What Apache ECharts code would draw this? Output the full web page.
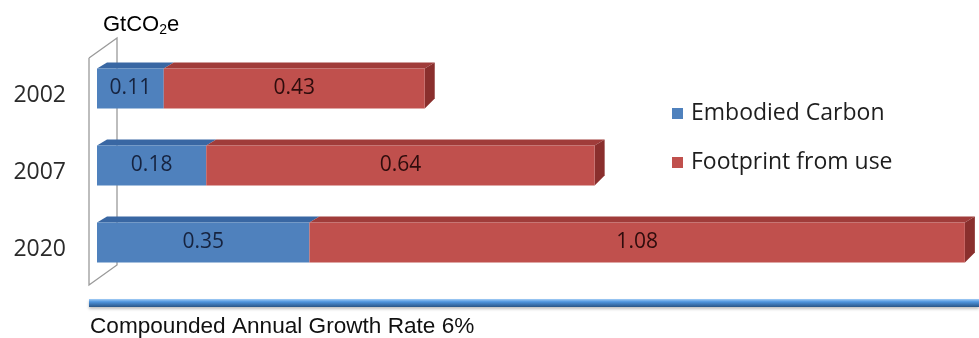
<!DOCTYPE html>
<html>
<head>
<meta charset="utf-8">
<script src="https://cdn.jsdelivr.net/npm/echarts@6/dist/echarts.min.js"></script>
<style>
html,body{margin:0;padding:0;background:#fff;}
#c{width:979px;height:338px;}
</style>
</head>
<body>
<div id="c"></div>
<script>
const categories = ['2002', '2007', '2020'];
const embodied = [0.11, 0.18, 0.35];
const footprint = [0.43, 0.64, 1.08];
const seriesNames = ['Embodied Carbon', 'Footprint from use'];
const unitLabel = 'GtCO';
const footnote = 'Compounded Annual Growth Rate 6%';

const BLUE = '#4f81bd', RED = '#c0504d';
const BLUE_TOP = '#3967a3', RED_TOP = '#a03c3a', RED_SIDE = '#8a2f2d';
const BAR_H = 40, DX = 10, DY = -6;

const chart = echarts.init(document.getElementById('c'), null, {renderer: 'canvas'});

const faceData = categories.map((c, i) => [i, embodied[i], footprint[i]]);

chart.setOption({
  animation: false,
  backgroundColor: '#ffffff',
  grid: {left: 97, right: 2, top: 50, bottom: 57},
  xAxis: {type: 'value', min: 0, max: 1.45, show: false},
  yAxis: {
    type: 'category', data: categories, inverse: true,
    axisLine: {show: false}, axisTick: {show: false},
    axisLabel: {margin: 31, formatter: '{a|{value}}',
      rich: {a: {fontFamily: 'Open Sans', fontSize: 23, color: '#2a2a2a', padding: [14, 0, 0, 0]}}}
  },
  legend: {
    orient: 'vertical', left: 667, top: 97, itemWidth: 11, itemHeight: 11, itemGap: 26,
    icon: 'rect',
    textStyle: {fontFamily: 'Open Sans', fontSize: 23, color: '#1e1e1e', padding: [0, 0, 0, 3]},
    data: seriesNames
  },
  graphic: [
    {type: 'polyline', z: 0, shape: {points: [[89, 58], [117, 38], [117, 265], [89, 285], [89, 58]]},
      style: {stroke: '#9a9a9a', lineWidth: 1.3, fill: null}},
    {type: 'rect', z: 0, shape: {x: 89, y: 299, width: 890, height: 8},
      style: {fill: new echarts.graphic.LinearGradient(0, 0, 0, 1, [
        {offset: 0, color: '#a4cdf5'}, {offset: 0.35, color: '#4f95de'}, {offset: 1, color: '#2a5586'}]),
        shadowColor: 'rgba(0,0,0,0.25)', shadowBlur: 3, shadowOffsetY: 2}},
    {type: 'text', left: 103, top: 14, z: 5,
      style: {text: '{a|' + unitLabel + '}{s|2}{a|e}',
        rich: {a: {fontFamily: 'Liberation Sans', fontSize: 22, color: '#111'},
               s: {fontFamily: 'Liberation Sans', fontSize: 14, color: '#111', padding: [10, 0, 0, 0]}}}},
    {type: 'text', left: 90, top: 315, z: 5,
      style: {text: footnote, fontFamily: 'Liberation Sans', fontSize: 22.6, fill: '#111'}}
  ],
  series: [
    {
      name: seriesNames[0], type: 'bar', stack: 'total', barWidth: BAR_H, z: 3,
      itemStyle: {color: BLUE},
      label: {show: true, position: 'inside', fontFamily: 'Open Sans', fontSize: 21, color: '#16233f'},
      data: embodied
    },
    {
      name: seriesNames[1], type: 'bar', stack: 'total', barWidth: BAR_H, z: 3,
      itemStyle: {color: RED},
      label: {show: true, position: 'inside', fontFamily: 'Open Sans', fontSize: 21, color: '#2e0c0c'},
      data: footprint
    },
    {
      type: 'custom', z: 2, silent: true,
      encode: {x: [1, 2], y: 0},
      renderItem: function (params, api) {
        const cat = api.value(0), e = api.value(1), f = api.value(2);
        const p0 = api.coord([0, cat]);
        const p1 = api.coord([e, cat]);
        const p2 = api.coord([e + f, cat]);
        const yt = p0[1] - BAR_H / 2, yb = p0[1] + BAR_H / 2;
        return {
          type: 'group',
          children: [
            {type: 'polygon', shape: {points: [[p0[0], yt], [p1[0], yt], [p1[0] + DX, yt + DY], [p0[0] + DX, yt + DY]]},
              style: {fill: BLUE_TOP}},
            {type: 'polygon', shape: {points: [[p1[0], yt], [p2[0], yt], [p2[0] + DX, yt + DY], [p1[0] + DX, yt + DY]]},
              style: {fill: RED_TOP}},
            {type: 'polygon', shape: {points: [[p2[0], yt], [p2[0] + DX, yt + DY], [p2[0] + DX, yb - 10], [p2[0], yb]]},
              style: {fill: RED_SIDE}}
          ]
        };
      },
      data: faceData
    }
  ]
});
</script>
</body>
</html>
